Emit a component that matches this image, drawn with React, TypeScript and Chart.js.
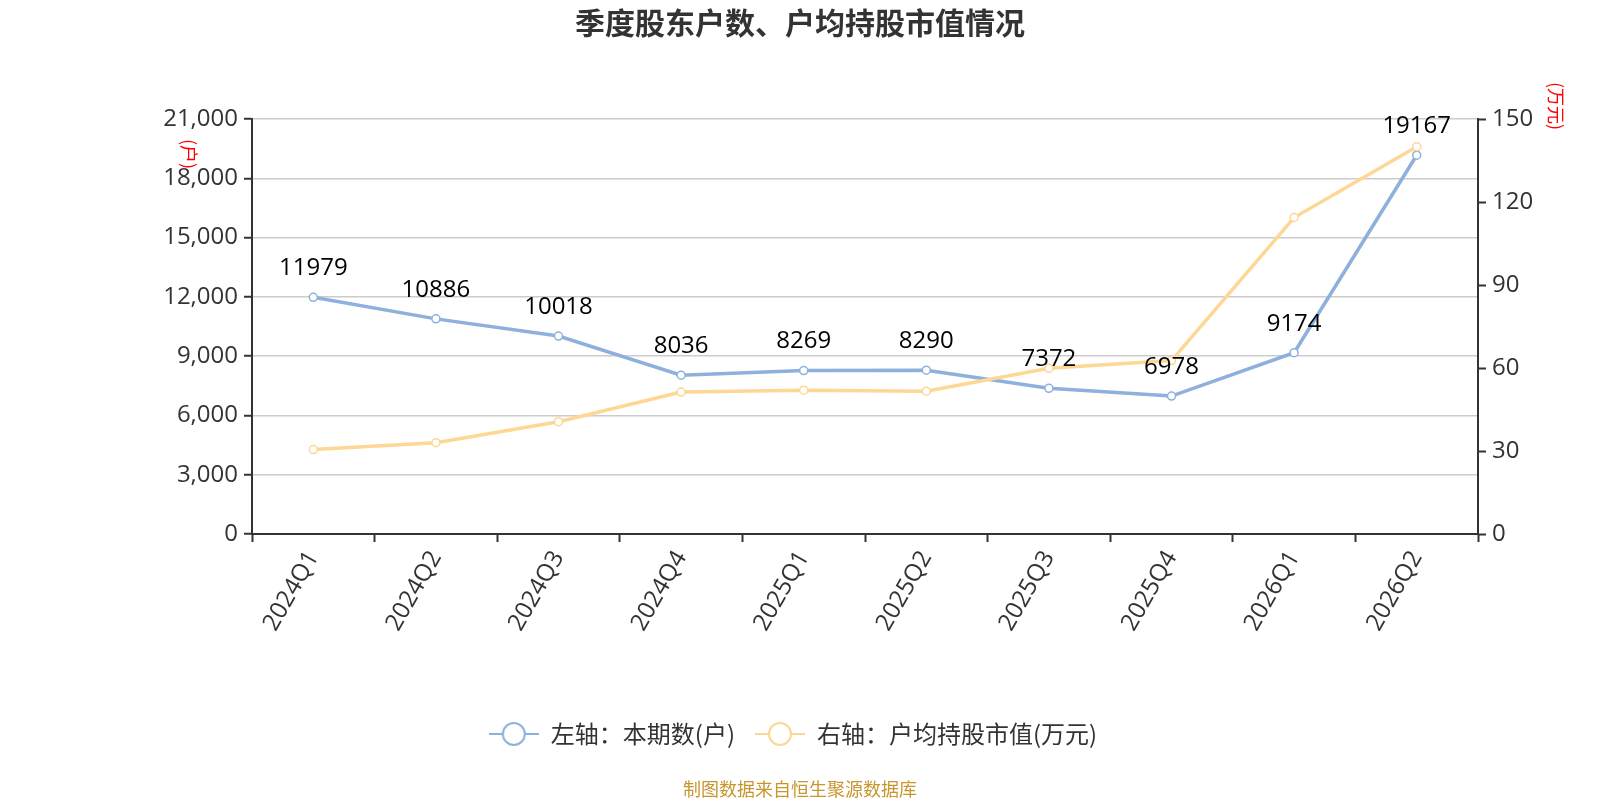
import React, { useEffect, useRef } from "react";
import { Chart, registerables } from "chart.js";

Chart.register(...registerables);

const categories = ["2024Q1", "2024Q2", "2024Q3", "2024Q4", "2025Q1", "2025Q2", "2025Q3", "2025Q4", "2026Q1", "2026Q2"];
const holders = [11979, 10886, 10018, 8036, 8269, 8290, 7372, 6978, 9174, 19167];
const avgValue = [30.5, 33.0, 40.6, 51.3, 52.0, 51.6, 59.9, 62.7, 114.4, 140.0];
const leftTicks = { min: 0, max: 21000, step: 3000 };
const rightTicks = { min: 0, max: 150, step: 30 };
const seriesNames = ["左轴：本期数(户)", "右轴：户均持股市值(万元)"];
const titleText = "季度股东户数、户均持股市值情况";
const footerText = "制图数据来自恒生聚源数据库";
const leftUnit = "(户)";
const rightUnit = "(万元)";

const BLUE = "#8eb0dd";
const YELLOW = "#fed794";
const FONT = '"Open Sans", "Noto Sans CJK SC", sans-serif';
const CJK = '"Noto Sans CJK SC", "Open Sans", sans-serif';

function legendIcon(color: string): HTMLCanvasElement {
  const c = document.createElement("canvas");
  c.width = 50;
  c.height = 28;
  const g = c.getContext("2d")!;
  g.strokeStyle = color;
  g.lineWidth = 2;
  g.beginPath();
  g.moveTo(0, 14);
  g.lineTo(50, 14);
  g.stroke();
  g.beginPath();
  g.arc(25, 14, 11, 0, Math.PI * 2);
  g.fillStyle = "#fff";
  g.fill();
  g.stroke();
  return c;
}

const extrasPlugin = {
  id: "extras",
  afterLayout(chart: any) {
    if (chart.legend) {
      chart.legend.left -= 7;
      chart.legend.right -= 7;
    }
  },
  afterDatasetsDraw(chart: any) {
    const ctx = chart.ctx;
    const meta = chart.getDatasetMeta(0);
    ctx.save();
    ctx.font = `24px ${FONT}`;
    ctx.fillStyle = "#000";
    ctx.textAlign = "center";
    ctx.textBaseline = "middle";
    meta.data.forEach((pt: any, i: number) => {
      ctx.fillText(String(holders[i]), pt.x, pt.y - 29);
    });
    ctx.restore();
  },
  afterDraw(chart: any) {
    const ctx = chart.ctx;
    const drawRot = (t: string, x: number, y: number) => {
      ctx.save();
      ctx.fillStyle = "#ff0000";
      ctx.font = `18px ${CJK}`;
      ctx.textAlign = "center";
      ctx.textBaseline = "middle";
      ctx.translate(x, y);
      ctx.rotate(Math.PI / 2);
      ctx.fillText(t, 0, 0);
      ctx.restore();
    };
    drawRot(leftUnit, 189, 154);
    drawRot(rightUnit, 1556, 106);

    ctx.save();
    ctx.fillStyle = "#c8962e";
    ctx.font = `18px ${CJK}`;
    ctx.textAlign = "center";
    ctx.textBaseline = "middle";
    ctx.fillText(footerText, 800, 789);
    ctx.restore();
  },
};

export default function App() {
  const ref = useRef<HTMLCanvasElement>(null);
  useEffect(() => {
    document.body.style.margin = "0";
    const icons = [legendIcon(BLUE), legendIcon(YELLOW)];
    const chart = new Chart(ref.current!, {
      type: "line",
      data: {
        labels: categories,
        datasets: [
          {
            label: seriesNames[0],
            data: holders,
            yAxisID: "y",
            borderColor: BLUE,
            backgroundColor: "#fff",
            borderWidth: 3.5,
            pointRadius: 4,
            pointBorderWidth: 1.5,
            pointBackgroundColor: "#fff",
            pointBorderColor: BLUE,
            pointStyle: "circle",
            tension: 0,
            order: 1,
          } as any,
          {
            label: seriesNames[1],
            data: avgValue,
            yAxisID: "y1",
            borderColor: YELLOW,
            backgroundColor: "#fff",
            borderWidth: 3.5,
            pointRadius: 4,
            pointBorderWidth: 1.5,
            pointBackgroundColor: "#fff",
            pointBorderColor: YELLOW,
            pointStyle: "circle",
            tension: 0,
            order: 0,
          } as any,
        ],
      },
      options: {
        responsive: false,
        animation: false,
        layout: { padding: { left: 0, right: 0, top: 0, bottom: 44 } },
        plugins: {
          title: {
            display: true,
            text: titleText,
            color: "#333",
            font: { family: CJK, size: 30, weight: "bold" },
            padding: { top: 4.5, bottom: 78.5 },
          },
          legend: {
            display: true,
            position: "bottom",
            labels: {
              usePointStyle: true,
              pointStyleWidth: 50,
              boxHeight: 24,
              padding: 20,
              color: "#333",
              font: { family: CJK, size: 24 },
              sort: (a: any, b: any) => a.datasetIndex - b.datasetIndex,
              generateLabels: (chart: any) =>
                chart.data.datasets.map((ds: any, i: number) => ({
                  text: ds.label,
                  datasetIndex: i,
                  pointStyle: icons[i],
                  fillStyle: "#fff",
                  strokeStyle: ds.borderColor,
                  lineWidth: 0,
                  hidden: false,
                  fontColor: "#333",
                })),
            },
          },
          tooltip: { enabled: false },
        },
        scales: {
          x: {
            type: "category",
            offset: true,
            grid: {
              display: true,
              offset: true,
              drawOnChartArea: false,
              drawTicks: true,
              tickLength: 8,
              tickColor: "#333",
              tickWidth: 2,
            },
            border: { display: true, color: "#333", width: 2 },
            ticks: {
              color: "#333",
              font: { family: FONT, size: 24 },
              maxRotation: 60,
              minRotation: 60,
              autoSkip: false,
              padding: 4,
            },
            afterFit: (s: any) => {
              s.height = 168;
            },
          },
          y: {
            type: "linear",
            position: "left",
            min: leftTicks.min,
            max: leftTicks.max,
            grid: {
              color: "#cccccc",
              lineWidth: 1.5,
              drawTicks: true,
              tickLength: 8,
              tickColor: "#333",
              tickWidth: 2,
            },
            border: { display: true, color: "#333", width: 2 },
            ticks: {
              stepSize: leftTicks.step,
              color: "#333",
              font: { family: FONT, size: 24 },
              padding: 6,
              callback: (v: any) => Number(v).toLocaleString("en-US"),
            },
            afterFit: (s: any) => {
              s.width = 252;
            },
          },
          y1: {
            type: "linear",
            position: "right",
            min: rightTicks.min,
            max: rightTicks.max,
            grid: {
              drawOnChartArea: false,
              drawTicks: true,
              tickLength: 8,
              tickColor: "#333",
              tickWidth: 2,
            },
            border: { display: true, color: "#333", width: 2 },
            ticks: {
              stepSize: rightTicks.step,
              color: "#333",
              font: { family: FONT, size: 24 },
              padding: 6,
            },
            afterFit: (s: any) => {
              s.width = 122;
            },
          },
        },
      },
      plugins: [extrasPlugin],
    });
    return () => chart.destroy();
  }, []);
  return (
    <div style={{ width: 1600, height: 800 }}>
      <canvas ref={ref} width={1600} height={800} style={{ display: "block" }} />
    </div>
  );
}
